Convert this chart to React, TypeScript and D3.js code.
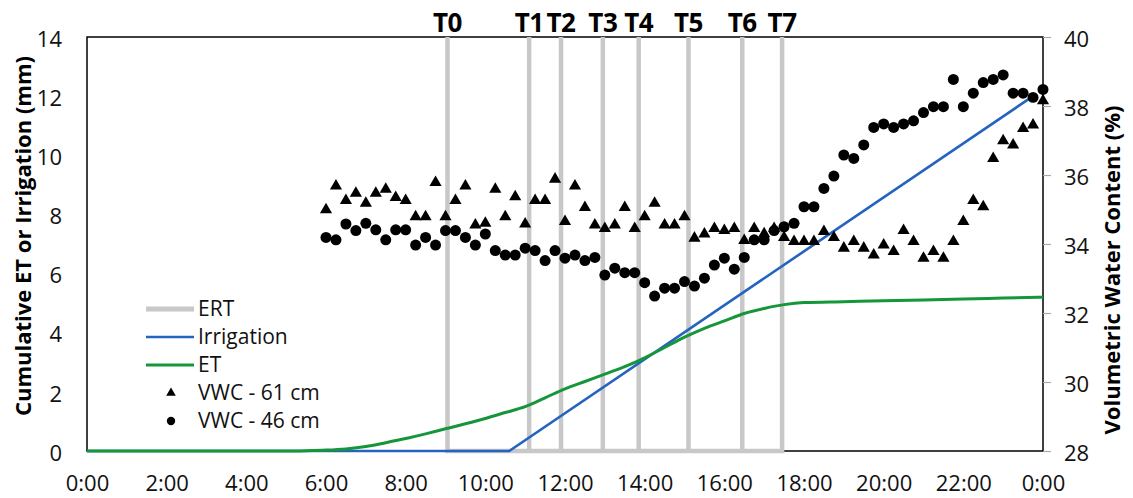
import React, { useEffect, useRef } from 'react';
import * as d3 from 'd3';

// ERT survey times (hour of day) and their labels
const ertTimes = [9.05, 11.1, 11.9, 12.95, 13.85, 15.1, 16.45, 17.45];
const ertLabels = ['T0', 'T1', 'T2', 'T3', 'T4', 'T5', 'T6', 'T7'];

// cumulative irrigation (mm)
const irrigationHours = [0, 10.6, 23.75];
const irrigationMm = [0, 0, 12.0];

// cumulative ET (mm)
const etHours = [0, 5, 5.5, 6, 6.5, 7, 7.5, 8, 8.5, 9, 9.5, 10, 10.5, 11, 11.5, 12, 12.5, 13, 13.5, 14, 14.5, 15, 15.5, 16, 16.5, 17, 17.5, 18, 19, 20, 21, 22, 23, 24];
const etMm = [0, 0, 0.01, 0.03, 0.07, 0.15, 0.28, 0.42, 0.58, 0.75, 0.92, 1.1, 1.3, 1.5, 1.8, 2.1, 2.35, 2.6, 2.85, 3.15, 3.5, 3.85, 4.15, 4.4, 4.65, 4.82, 4.95, 5.02, 5.05, 5.08, 5.11, 5.14, 5.17, 5.2];

// VWC readings every 15 min from 6:00 to 24:00 (%)
const vwcStart = 6;
const vwcStep = 0.25;
const vwc61 = [
  34.99, 35.68, 35.26, 35.47, 35.18, 35.47, 35.59, 35.35, 35.26, 34.79, 34.79, 35.78,
  34.79, 35.26, 35.68, 34.55, 34.6, 35.59, 34.79, 35.37, 34.58, 35.26, 35.26, 35.88,
  34.65, 35.68, 35.06, 34.55, 34.45, 34.55, 35.06, 34.45, 34.79, 35.18, 34.55, 34.55,
  34.79, 34.17, 34.29, 34.45, 34.39, 34.45, 34.1, 34.45, 34.3, 34.45, 34.19, 34.07,
  34.07, 34.07, 34.36, 34.19, 33.88, 34.07, 33.88, 33.68, 33.97, 33.78, 34.39, 34.07,
  33.59, 33.78, 33.59, 34.07, 34.65, 35.26, 35.08, 36.48, 36.99, 36.87, 37.35, 37.45,
  38.15,
];
const vwc46 = [
  34.19, 34.12, 34.58, 34.39, 34.6, 34.41, 34.12, 34.41, 34.41, 33.97, 34.19, 33.97,
  34.39, 34.39, 34.19, 33.97, 34.29, 33.81, 33.68, 33.68, 33.88, 33.81, 33.52, 33.81,
  33.59, 33.68, 33.52, 33.61, 33.1, 33.3, 33.17, 33.17, 32.88, 32.49, 32.72, 32.72,
  32.91, 32.78, 33.01, 33.39, 33.59, 33.27, 33.61, 34.12, 34.12, 34.39, 34.5, 34.6,
  35.08, 35.08, 35.61, 35.97, 36.58, 36.48, 36.87, 37.38, 37.48, 37.38, 37.48, 37.57,
  37.81, 37.98, 37.98, 38.77, 37.98, 38.37, 38.68, 38.77, 38.9, 38.37, 38.37, 38.25,
  38.48,
];

const xTicks = [0, 2, 4, 6, 8, 10, 12, 14, 16, 18, 20, 22, 24];
const xTickLabels = ['0:00', '2:00', '4:00', '6:00', '8:00', '10:00', '12:00', '14:00', '16:00', '18:00', '20:00', '22:00', '0:00'];
const leftTicks = [0, 2, 4, 6, 8, 10, 12, 14];
const rightTicks = [28, 30, 32, 34, 36, 38, 40];

const legendItems = ['ERT', 'Irrigation', 'ET', 'VWC - 61 cm', 'VWC - 46 cm'];

const font = "'Open Sans', sans-serif";
const ertColor = '#c8c8c8';
const irrColor = '#2463c0';
const etColor = '#16963a';

function Chart() {
  const ref = useRef<SVGSVGElement>(null);

  useEffect(() => {
    const svg = d3.select(ref.current);
    svg.selectAll('*').remove();

    const x = d3.scaleLinear().domain([0, 24]).range([87, 1043]);
    const yL = d3.scaleLinear().domain([0, 14]).range([451, 37]);
    const yR = d3.scaleLinear().domain([28, 40]).range([451, 37]);
    const [x0, x1] = x.range();
    const [yb, yt] = yL.range();

    // plot frame
    svg.append('rect')
      .attr('x', x0).attr('y', yt)
      .attr('width', x1 - x0).attr('height', yb - yt)
      .attr('fill', 'none').attr('stroke', '#000').attr('stroke-width', 1.5);

    // axes
    const left = svg.append('g')
      .attr('transform', `translate(${x0},0)`)
      .call(d3.axisLeft(yL).tickValues(leftTicks).tickSize(0).tickPadding(25));
    const right = svg.append('g')
      .attr('transform', `translate(${x1},0)`)
      .call(d3.axisRight(yR).tickValues(rightTicks).tickSize(8).tickPadding(13));
    const bottom = svg.append('g')
      .attr('transform', `translate(0,${yb})`)
      .call(d3.axisBottom(x).tickValues(xTicks).tickSize(0).tickPadding(24)
        .tickFormat((d, i) => xTickLabels[i]));

    [left, right, bottom].forEach(g => {
      g.select('.domain').remove();
      g.selectAll('text')
        .attr('font-family', font).attr('font-size', 22).attr('fill', '#111');
    });
    right.selectAll('line').attr('stroke', '#aaa').attr('stroke-width', 1.2);
    left.selectAll('text').attr('dy', '0.42em');
    right.selectAll('text').attr('dy', '0.42em');

    // ERT markers as one zig-zag series
    const ertPts: [number, number][] = ertTimes.flatMap(t => [[t, 0], [t, 14], [t, 0]] as [number, number][]);
    const lineL = d3.line<[number, number]>().x(d => x(d[0])).y(d => yL(d[1]));
    svg.append('path')
      .attr('d', lineL(ertPts))
      .attr('fill', 'none').attr('stroke', ertColor).attr('stroke-width', 4.5);

    svg.selectAll('.tlab')
      .data(ertTimes)
      .enter().append('text')
      .attr('class', 'tlab')
      .attr('x', d => x(d))
      .attr('y', 32)
      .attr('text-anchor', 'middle')
      .attr('font-family', font).attr('font-weight', 'bold').attr('font-size', 26)
      .attr('letter-spacing', -0.5)
      .text((d, i) => ertLabels[i]);

    // irrigation
    svg.append('path')
      .attr('d', lineL(irrigationHours.map((h, i) => [h, irrigationMm[i]])))
      .attr('fill', 'none').attr('stroke', irrColor).attr('stroke-width', 2.6);

    // ET
    const etLine = d3.line<[number, number]>().x(d => x(d[0])).y(d => yL(d[1])).curve(d3.curveMonotoneX);
    svg.append('path')
      .attr('d', etLine(etHours.map((h, i) => [h, etMm[i]])))
      .attr('fill', 'none').attr('stroke', etColor).attr('stroke-width', 3);

    // VWC points
    const tri = d3.symbol().type(d3.symbolTriangle).size(64);
    const circ = d3.symbol().type(d3.symbolCircle).size(95);
    svg.selectAll('.v61')
      .data(vwc61)
      .enter().append('path')
      .attr('class', 'v61')
      .attr('d', tri)
      .attr('transform', (d, i) => `translate(${x(vwcStart + i * vwcStep)},${yR(d)})`)
      .attr('fill', '#000');
    svg.selectAll('.v46')
      .data(vwc46)
      .enter().append('path')
      .attr('class', 'v46')
      .attr('d', circ)
      .attr('transform', (d, i) => `translate(${x(vwcStart + i * vwcStep)},${yR(d)})`)
      .attr('fill', '#000');

    // legend
    const lg = svg.append('g').attr('transform', 'translate(146,309)');
    const rowH = 28;
    legendItems.forEach((name, i) => {
      const row = lg.append('g').attr('transform', `translate(0,${i * rowH})`);
      if (i < 3) {
        row.append('line')
          .attr('x1', 0).attr('x2', 48).attr('y1', 0).attr('y2', 0)
          .attr('stroke', [ertColor, irrColor, etColor][i])
          .attr('stroke-width', [5, 2.6, 3][i]);
      } else {
        row.append('path')
          .attr('d', d3.symbol().type(i === 3 ? d3.symbolTriangle : d3.symbolCircle).size(i === 3 ? 40 : 55)())
          .attr('transform', 'translate(25,0)')
          .attr('fill', '#000');
      }
      row.append('text')
        .attr('x', 52).attr('y', 0).attr('dy', '0.35em')
        .attr('font-family', font).attr('font-size', 21).attr('fill', '#111')
        .text(name);
    });

    // axis titles
    svg.append('text')
      .attr('transform', `translate(23,${(yb + yt) / 2 - 8}) rotate(-90)`)
      .attr('text-anchor', 'middle').attr('dy', '0.35em')
      .attr('font-family', font).attr('font-weight', 'bold').attr('font-size', 22)
      .text('Cumulative ET or Irrigation (mm)');
    svg.append('text')
      .attr('transform', `translate(1112,${(yb + yt) / 2 + 26}) rotate(-90)`)
      .attr('text-anchor', 'middle').attr('dy', '0.35em')
      .attr('font-family', font).attr('font-weight', 'bold').attr('font-size', 22)
      .text('Volumetric Water Content (%)');
  }, []);

  return (
    <svg ref={ref} width={1133} height={498}
      style={{ position: 'absolute', left: 0, top: 0, background: '#fff' }} />
  );
}

export default function App() {
  return <Chart />;
}
